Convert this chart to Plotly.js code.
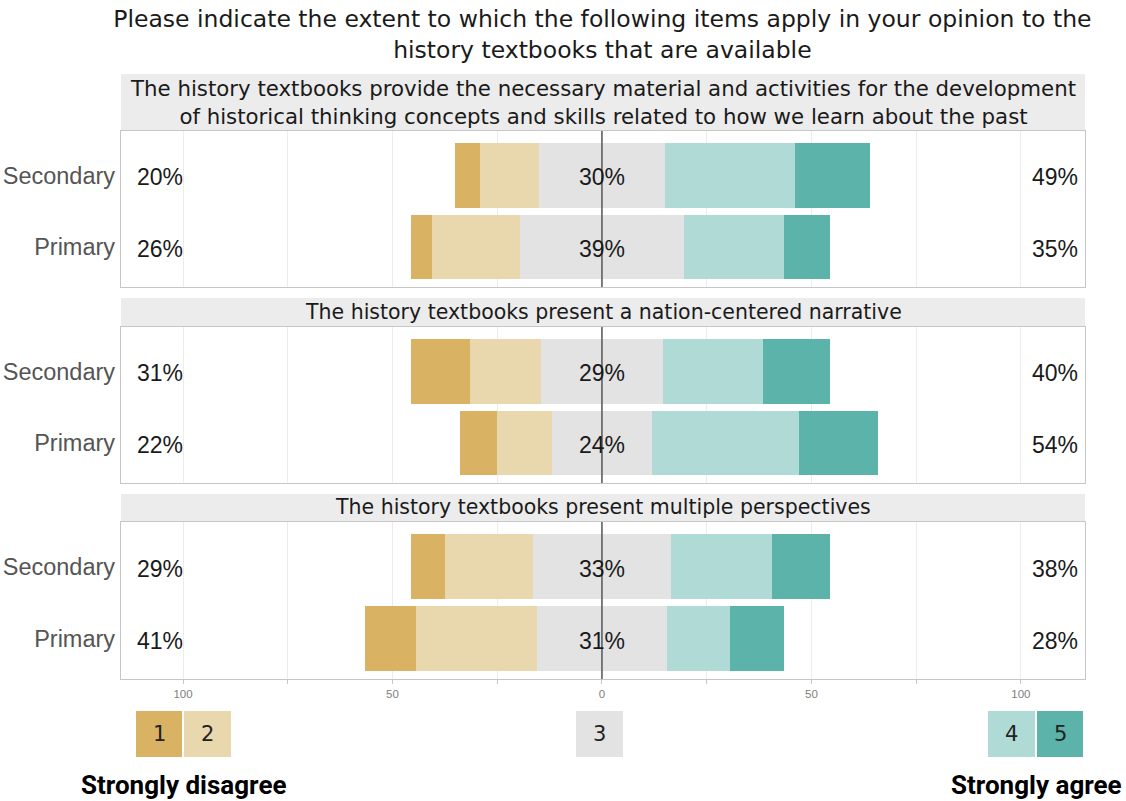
<!DOCTYPE html>
<html>
<head>
<meta charset="utf-8">
<script src="https://cdn.plot.ly/plotly-3.0.1.min.js"></script>
<style>html,body{margin:0;padding:0;background:#fff;}#chart{width:1126px;height:801px;}</style>
</head>
<body>
<div id="chart"></div>
<script>
// ---- data ----
const chartTitle = 'Please indicate the extent to which the following items apply in your opinion to the<br>history textbooks that are available';
const items = [
  'The history textbooks provide the necessary material and activities for the development<br>of historical thinking concepts and skills related to how we learn about the past',
  'The history textbooks present a nation-centered narrative',
  'The history textbooks present multiple perspectives'
];
const groups = ['Secondary', 'Primary'];
const levels = ['1', '2', '3', '4', '5'];
const levelColors = ['#d9b263', '#e9d7ae', '#e3e3e3', '#b0dad6', '#5bb3aa'];
// values per item: [Secondary, Primary]
const strongDisagree = [[6, 5], [14, 9], [8, 12]];
const disagree       = [[14, 21], [17, 13], [21, 29]];
const neutral        = [[30, 39], [29, 24], [33, 31]];
const agree          = [[31, 24], [24, 35], [24, 15]];
const strongAgree    = [[18, 11], [16, 19], [14, 13]];
const xTickVals = [-100, -75, -50, -25, 0, 25, 50, 75, 100];
const xTickText = ['100', '', '50', '', '0', '', '50', '', '100'];
const legendLeft = 'Strongly disagree';
const legendRight = 'Strongly agree';

// ---- build ----
const traces = [];
const axSuffix = ['', '2', '3'];
const textFont = {family: 'Liberation Sans, Arial, sans-serif', size: 23, color: '#1a1a1a'};
const labelAnns = [];
items.forEach((item, i) => {
  const s = axSuffix[i];
  const xa = 'x' + s, ya = 'y' + s;
  const vals = [strongDisagree[i], disagree[i], neutral[i], agree[i], strongAgree[i]];
  const starts = [[], [], [], [], []];
  for (let g = 0; g < groups.length; g++) {
    const d1 = vals[0][g], d2 = vals[1][g], n = vals[2][g], a4 = vals[3][g];
    starts[0][g] = -(d1 + d2 + n / 2);
    starts[1][g] = -(d2 + n / 2);
    starts[2][g] = -n / 2;
    starts[3][g] = n / 2;
    starts[4][g] = n / 2 + a4;
  }
  levels.forEach((lv, k) => {
    traces.push({
      type: 'bar', orientation: 'h', name: lv,
      y: groups, x: vals[k], base: starts[k], width: 0.9,
      marker: {color: levelColors[k], line: {width: 0}},
      xaxis: xa, yaxis: ya, showlegend: false, hoverinfo: 'skip'
    });
  });
  groups.forEach((g, j) => {
    const left = Math.round(vals[0][j] + vals[1][j]) + '%';
    const mid = Math.round(vals[2][j]) + '%';
    const right = Math.round(vals[3][j] + vals[4][j]) + '%';
    [[-111.5, left, 'left'], [0, mid, 'center'], [114, right, 'right']].forEach(([xv, t, anc]) => {
      labelAnns.push({text: t, xref: xa, yref: ya, x: xv, y: g, xanchor: anc, yanchor: 'middle',
        showarrow: false, yshift: -2, font: textFont});
    });
  });
});

const plotDomains = [[0.648, 0.9058], [0.324, 0.5818], [0, 0.2595]];
const stripDomains = [[0.9074, 1.0], [0.5835, 0.6298], [0.2612, 0.3058]];
const stripFontSizes = [21.3, 20.5, 20.5];

const layout = {
  width: 1126, height: 801,
  margin: {l: 121, r: 41, t: 74, b: 122},
  paper_bgcolor: '#ffffff', plot_bgcolor: '#ffffff',
  barmode: 'overlay', bargap: 0,
  title: {text: chartTitle, x: 0.535, xanchor: 'center', y: 0.966, yanchor: 'middle', yref: 'container',
    font: {family: 'DejaVu Sans, Verdana, sans-serif', size: 23.5, color: '#1a1a1a'}},
  shapes: [], annotations: labelAnns
};
items.forEach((item, i) => {
  const s = axSuffix[i];
  const xa = 'xaxis' + s, ya = 'yaxis' + s;
  layout[xa] = {
    domain: [0, 1], anchor: 'y' + s, range: [-114.8, 115.3],
    tickmode: 'array', tickvals: xTickVals, ticktext: i === 2 ? xTickText : xTickVals.map(() => ''),
    showgrid: true, gridcolor: '#ececec', gridwidth: 1, zeroline: false,
    showline: true, mirror: true, linecolor: '#c6c6c6', linewidth: 1.2,
    ticks: i === 2 ? 'outside' : '', ticklen: 4, tickcolor: '#c6c6c6',
    tickfont: {family: 'Liberation Sans, Arial, sans-serif', size: 11.5, color: '#808080'},
    fixedrange: true
  };
  layout[ya] = {
    domain: plotDomains[i], anchor: 'x' + s, type: 'category',
    categoryorder: 'array', categoryarray: ['Primary', 'Secondary'], range: [-0.56, 1.62],
    showgrid: false, zeroline: false, showline: true, mirror: true, linecolor: '#c6c6c6', linewidth: 1.2,
    ticks: '', ticklabelstandoff: 0,
    tickfont: {family: 'Liberation Sans, Arial, sans-serif', size: 23.5, color: '#555555'},
    fixedrange: true
  };
  layout.shapes.push({type: 'rect', xref: 'paper', yref: 'paper', x0: 0, x1: 1,
    y0: stripDomains[i][0], y1: stripDomains[i][1], fillcolor: '#ececec', line: {width: 0}, layer: 'below'});
  layout.shapes.push({type: 'line', xref: 'x' + s, yref: 'y' + s + ' domain', x0: 0, x1: 0, y0: 0, y1: 1,
    line: {color: '#555555', width: 1.5}, layer: 'above'});
  layout.annotations.push({text: item, xref: 'paper', yref: 'paper', x: 0.5,
    y: (stripDomains[i][0] + stripDomains[i][1]) / 2, xanchor: 'center', yanchor: 'middle', showarrow: false,
    yshift: i === 0 ? -0.5 : 0,
    font: {family: 'DejaVu Sans, Verdana, sans-serif', size: stripFontSizes[i], color: '#1a1a1a'}});
});

// legend (paper coordinates): px -> paper
const px2x = px => (px - 121) / 964;
const px2y = py => (679 - py) / 605;
const legendBoxes = [[136, 182], [184, 231], [576, 623], [988, 1035], [1037, 1083]];
legendBoxes.forEach((b, k) => {
  layout.shapes.push({type: 'rect', xref: 'paper', yref: 'paper', x0: px2x(b[0]), x1: px2x(b[1]),
    y0: px2y(757), y1: px2y(711), fillcolor: levelColors[k], line: {width: 0}});
  layout.annotations.push({text: levels[k], xref: 'paper', yref: 'paper', x: px2x((b[0] + b[1]) / 2),
    y: px2y(734), xanchor: 'center', yanchor: 'middle', showarrow: false,
    font: {family: 'DejaVu Sans, Verdana, sans-serif', size: 21, color: '#222222'}});
});
layout.annotations.push({text: '<b>' + legendLeft + '</b>', xref: 'paper', yref: 'paper', x: px2x(79), y: px2y(785),
  xanchor: 'left', yanchor: 'middle', showarrow: false,
  font: {family: 'Roboto, sans-serif', size: 26, color: '#000000'}});
layout.annotations.push({text: '<b>' + legendRight + '</b>', xref: 'paper', yref: 'paper', x: px2x(1124), y: px2y(785),
  xanchor: 'right', yanchor: 'middle', showarrow: false,
  font: {family: 'Roboto, sans-serif', size: 26, color: '#000000'}});

Plotly.newPlot('chart', traces, layout, {displayModeBar: false, staticPlot: true});
</script>
</body>
</html>
